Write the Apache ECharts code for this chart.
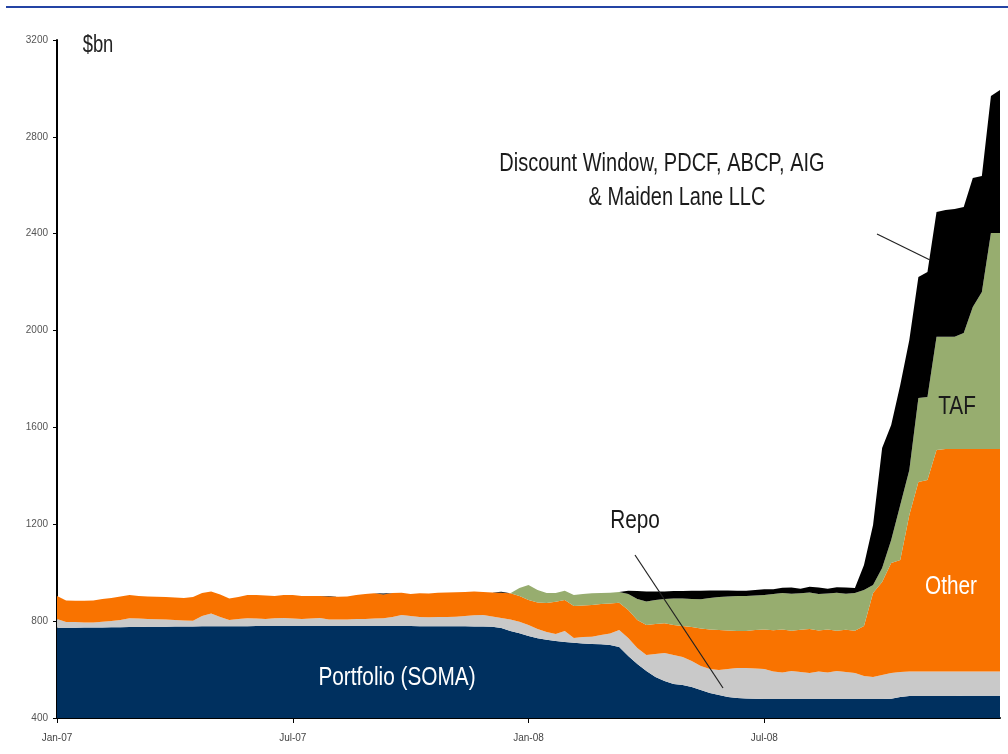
<!DOCTYPE html>
<html>
<head>
<meta charset="utf-8">
<title>Fed balance sheet, $bn</title>
<script src="https://cdn.jsdelivr.net/npm/echarts@6/dist/echarts.min.js"></script>
<style>
html, body { margin: 0; padding: 0; background: #fff; }
#chart { width: 1008px; height: 754px; }
</style>
</head>
<body>
<div id="chart"></div>
<script>
// weekly (Wednesday) observations, 3 Jan 2007 .. 31 Dec 2008
function pad(n) { return n < 10 ? '0' + n : '' + n; }
var weeks = [];
for (var i = 0; i < 105; i++) {
    var d = new Date(Date.UTC(2007, 0, 3 + 7 * i));
    weeks.push(d.getUTCFullYear() + '-' + pad(d.getUTCMonth() + 1) + '-' + pad(d.getUTCDate()));
}

// layer sizes, $bn (stacked bottom to top)
var soma = [
    773, 773, 773, 774, 774, 774, 775, 775, 776, 776,
    777, 777, 777, 778, 778, 778, 779, 779, 779, 779,
    779, 779, 780, 780, 780, 780, 780, 780, 780, 780,
    780, 780, 780, 780, 780, 780, 780, 780, 780, 780,
    779, 779, 779, 779, 779, 779, 778, 778, 777, 772,
    759, 750, 739, 729, 723, 718, 714, 711, 708, 706,
    705, 701, 693, 656, 623, 594, 569, 553, 540, 536,
    528, 516, 503, 495, 487, 483, 481, 479, 478, 478,
    478, 478, 478, 478, 478, 478, 478, 478, 478, 478,
    478, 478, 479, 487, 491, 491, 491, 491, 491, 491,
    492, 492, 492, 492, 492
];
var repo = [
    36, 23, 23, 20, 20, 24, 26, 30, 36, 35,
    32, 31, 30, 27, 25, 24, 42, 53, 38, 26,
    30, 33, 31, 29, 32, 33, 31, 29, 31, 33,
    27, 27, 27, 29, 29, 31, 32, 37, 45, 41,
    38, 37, 38, 38, 39, 42, 46, 47, 42, 41,
    48, 48, 45, 39, 32, 29, 45, 19, 27, 30,
    38, 48, 70, 74, 66, 66, 95, 115, 120, 116,
    107, 99, 99, 103, 115, 124, 126, 125, 124, 114,
    110, 116, 112, 108, 114, 110, 116, 112, 108, 95,
    91, 100, 107, 103, 101, 101, 101, 101, 101, 101,
    100, 100, 100, 100, 100
];
var other = [
    95, 89, 88, 90, 91, 93, 95, 97, 96, 93,
    93, 93, 93, 93, 93, 98, 95, 90, 93, 89,
    91, 96, 97, 97, 92, 95, 97, 95, 93, 91,
    95, 94, 95, 99, 103, 104, 98, 99, 92, 91,
    98, 98, 100, 101, 101, 99, 98, 95, 99, 104,
    108, 106, 103, 109, 120, 133, 128, 133, 130, 131,
    128, 124, 113, 116, 116, 124, 124, 123, 124, 128,
    141, 155, 164, 165, 159, 152, 152, 159, 164, 170,
    178, 166, 174, 182, 169, 177, 166, 174, 174, 207,
    347, 384, 454, 463, 646, 783, 791, 915, 919, 919,
    919, 919, 919, 919, 919
];
var taf = [
    0, 0, 0, 0, 0, 0, 0, 0, 0, 0,
    0, 0, 0, 0, 0, 0, 0, 0, 0, 0,
    0, 0, 0, 0, 0, 0, 0, 0, 0, 0,
    0, 0, 0, 0, 0, 0, 0, 0, 0, 0,
    0, 0, 0, 0, 0, 0, 0, 0, 0, 0,
    0, 33, 62, 52, 41, 36, 39, 45, 47, 48,
    45, 44, 44, 66, 86, 97, 99, 100, 110, 114,
    115, 120, 130, 137, 141, 145, 145, 143, 142, 150,
    150, 153, 151, 150, 151, 149, 157, 149, 156, 149,
    33, 57, 95, 227, 186, 347, 343, 467, 463, 463,
    479, 586, 648, 892, 892
];
var lending = [
    0, 0, 0, 0, 0, 0, 0, 0, 0, 0,
    0, 0, 0, 0, 0, 0, 0, 0, 0, 0,
    0, 0, 0, 0, 0, 0, 0, 0, 0, 0,
    2, 0, 0, 0, 0, 0, 4, 0, 0, 0,
    0, 0, 0, 0, 0, 0, 0, 0, 0, 4,
    0, 0, 0, 0, 0, 0, 0, 0, 0, 0,
    0, 0, 0, 14, 33, 41, 35, 31, 30, 30,
    35, 36, 31, 27, 25, 22, 22, 23, 24, 20,
    22, 26, 19, 24, 27, 20, 23, 26, 21, 103,
    248, 496, 475, 495, 537, 499, 516, 516, 524, 528,
    520, 533, 479, 566, 591
];

// first week of each labelled half-year
var xTickWeeks = ['2007-01-03', '2007-07-04', '2008-01-02', '2008-07-02'];
var xTickLabels = ['Jan-07', 'Jul-07', 'Jan-08', 'Jul-08'];
var yMin = 400, yMax = 3200, yStep = 400;

var font = "'Liberation Sans', Arial, sans-serif";
var narrowX = 0.8;   // squeeze to look like Arial Narrow

function isTick(index, value) {
    return xTickWeeks.indexOf(value) >= 0;
}

function layer(name, arr, color) {
    return {
        name: name,
        type: 'line',
        stack: 'total',
        symbol: 'none',
        lineStyle: { width: 0 },
        areaStyle: { color: color, opacity: 1 },
        itemStyle: { color: color },
        data: arr
    };
}

function label(text, x, y, size, color) {
    return {
        type: 'text', x: x, y: y, z: 10, scaleX: narrowX,
        style: { text: text, font: size + 'px ' + font, fill: color, textAlign: 'center', textVerticalAlign: 'middle' }
    };
}

var dom = document.getElementById('chart');
var myChart = echarts.init(dom);

var option = {
    animation: false,
    backgroundColor: '#fff',
    grid: { left: 57, right: 8, top: 40, bottom: 36 },
    xAxis: {
        type: 'category',
        data: weeks,
        boundaryGap: false,
        axisLine: { lineStyle: { color: '#000', width: 2 } },
        axisTick: { show: true, length: 5, interval: isTick, lineStyle: { color: '#000' } },
        axisLabel: {
            interval: isTick,
            fontSize: 10,
            fontFamily: font,
            color: '#444',
            margin: 15,
            formatter: function (v) {
                var k = xTickWeeks.indexOf(v);
                return k >= 0 ? xTickLabels[k] : '';
            }
        },
        splitLine: { show: false }
    },
    yAxis: {
        type: 'value',
        min: yMin,
        max: yMax,
        interval: yStep,
        axisLine: { show: true, lineStyle: { color: '#000', width: 2 } },
        axisTick: { show: true, length: 4, lineStyle: { color: '#000' } },
        axisLabel: { fontSize: 10, fontFamily: font, color: '#555', margin: 9, formatter: function (v) { return String(v); } },
        splitLine: { show: false }
    },
    series: [
        layer('Portfolio (SOMA)', soma, '#00305f'),
        layer('Repo', repo, '#c9c9c9'),
        layer('Other', other, '#f97300'),
        layer('TAF', taf, '#97ad6f'),
        layer('Discount Window, PDCF, ABCP, AIG & Maiden Lane LLC', lending, '#000000')
    ],
    graphic: [
        { type: 'line', shape: { x1: 6, y1: 7, x2: 1008, y2: 7 }, style: { stroke: '#2444a4', lineWidth: 2 } },
        label('$bn', 98, 46, 23, '#222'),
        label('Discount Window, PDCF, ABCP, AIG', 662, 164, 25, '#1a1a1a'),
        label('& Maiden Lane LLC', 677, 198, 25, '#1a1a1a'),
        { type: 'line', z: 10, shape: { x1: 877, y1: 234, x2: 930, y2: 260 }, style: { stroke: '#222', lineWidth: 1.2 } },
        label('TAF', 957, 407, 26, '#1a1a1a'),
        label('Other', 951, 587, 26, '#fff'),
        label('Repo', 635, 521, 26, '#1a1a1a'),
        { type: 'line', z: 10, shape: { x1: 635, y1: 555, x2: 723, y2: 688 }, style: { stroke: '#222', lineWidth: 1.2 } },
        label('Portfolio (SOMA)', 397, 678, 26, '#fff')
    ]
};

myChart.setOption(option);
</script>
</body>
</html>
